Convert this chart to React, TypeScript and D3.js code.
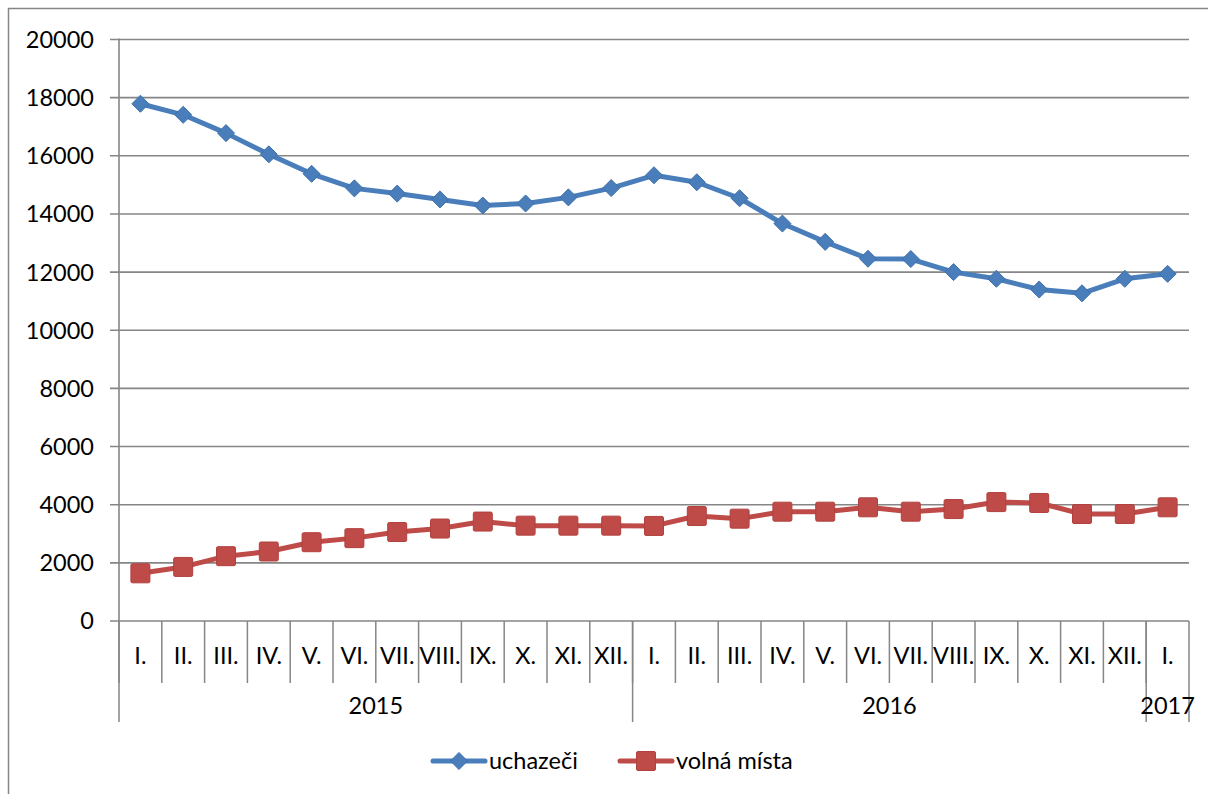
import React from 'react';
import * as d3 from 'd3';

// month labels for each point, and the year groups under them
const months = ['I.', 'II.', 'III.', 'IV.', 'V.', 'VI.', 'VII.', 'VIII.', 'IX.', 'X.', 'XI.', 'XII.',
  'I.', 'II.', 'III.', 'IV.', 'V.', 'VI.', 'VII.', 'VIII.', 'IX.', 'X.', 'XI.', 'XII.', 'I.'];
const years = ['2015', '2016', '2017'];
const yearSpans = [12, 12, 1];

const uchazeci = [17790, 17410, 16780, 16050, 15380, 14880, 14700, 14500, 14290, 14360, 14570, 14890,
  15330, 15090, 14540, 13670, 13040, 12460, 12450, 12000, 11770, 11400, 11270, 11770, 11940];
const volnaMista = [1640, 1860, 2230, 2390, 2710, 2850, 3060, 3180, 3420, 3280, 3280, 3280,
  3270, 3610, 3520, 3760, 3760, 3910, 3760, 3850, 4090, 4060, 3680, 3680, 3910];

const seriesNames = ['uchazeči', 'volná místa'];

const W = 1208;
const H = 794;
const left = 119;
const right = 1189;
const top = 39.5;
const bottom = 621;

const gridColor = '#868686';
const blue = '#4A7EBB';
const red = '#BE4B48';
const font = "Lato, 'Open Sans', sans-serif";
const fs = 23.5;

const App: React.FC = () => {
  const idx = months.map((_, i) => i);
  const x = d3.scaleBand<number>().domain(idx).range([left, right]).padding(0);
  const y = d3.scaleLinear().domain([0, 20000]).range([bottom, top]);
  const cx = (i: number) => (x(i) as number) + x.bandwidth() / 2;

  const line = d3.line<number>().x((_, i) => cx(i)).y(d => y(d));

  // year group boundaries
  let acc = 0;
  const groups = years.map((yr, k) => {
    const start = acc;
    acc += yearSpans[k];
    return { yr, x0: x(start) as number, x1: start + yearSpans[k] >= months.length ? right : (x(acc) as number) };
  });

  const diamond = d3.symbol().type(d3.symbolDiamond2).size(185)();

  return (
    <svg width={W} height={H} style={{ position: 'absolute', left: 0, top: 0, background: '#fff' }}
      fontFamily={font}>
      <rect x={8.5} y={8.5} width={W + 50} height={H + 50} fill="#fff" stroke={gridColor} strokeWidth={1.5} />

      {/* gridlines + y labels */}
      {y.ticks(10).map(t => (
        <g key={t}>
          <line x1={left - 9} x2={right} y1={y(t)} y2={y(t)} stroke={gridColor} strokeWidth={1.6} />
          <text x={94} y={y(t)} dy="0.36em" textAnchor="end" fontSize={fs} fill="#000">{t}</text>
        </g>
      ))}
      <line x1={left} x2={left} y1={top - 1} y2={bottom} stroke={gridColor} strokeWidth={1.6} />

      {/* category ticks */}
      {idx.map(i => (
        <g key={i}>
          <line x1={x(i) as number} x2={x(i) as number} y1={bottom} y2={683} stroke={gridColor} strokeWidth={1.5} />
          <text x={cx(i)} y={656} dy="0.36em" textAnchor="middle" fontSize={fs} fill="#000">{months[i]}</text>
        </g>
      ))}
      <line x1={right} x2={right} y1={bottom} y2={722} stroke={gridColor} strokeWidth={1.5} />
      {groups.map(g => (
        <g key={g.yr}>
          <line x1={g.x0} x2={g.x0} y1={bottom} y2={722} stroke={gridColor} strokeWidth={1.5} />
          <text x={(g.x0 + g.x1) / 2} y={706} dy="0.36em" textAnchor="middle" fontSize={fs} fill="#000">{g.yr}</text>
        </g>
      ))}

      {/* series */}
      <path d={line(uchazeci) || ''} fill="none" stroke={blue} strokeWidth={5} strokeLinejoin="round" />
      {uchazeci.map((v, i) => (
        <path key={i} d={diamond || ''} transform={`translate(${cx(i)},${y(v)})`} fill={blue} stroke="#3F70AA" strokeWidth={1} />
      ))}
      <path d={line(volnaMista) || ''} fill="none" stroke={red} strokeWidth={5} strokeLinejoin="round" />
      {volnaMista.map((v, i) => (
        <rect key={i} x={cx(i) - 9.5} y={y(v) - 9.5} width={19} height={19} rx={1.5} fill={red} stroke="#B0413E" strokeWidth={1} />
      ))}

      {/* legend */}
      <g transform="translate(433,761)">
        <line x1={0} x2={52} y1={0} y2={0} stroke={blue} strokeWidth={5} strokeLinecap="round" />
        <path d={diamond || ''} transform="translate(26,0)" fill={blue} stroke="#3F70AA" strokeWidth={1} />
        <text x={56} y={0} dy="0.36em" fontSize={fs} fill="#000">{seriesNames[0]}</text>
      </g>
      <g transform="translate(620,761)">
        <line x1={0} x2={52} y1={0} y2={0} stroke={red} strokeWidth={5} strokeLinecap="round" />
        <rect x={16.5} y={-9.5} width={19} height={19} rx={1.5} fill={red} stroke="#B0413E" strokeWidth={1} />
        <text x={56} y={0} dy="0.36em" fontSize={fs} fill="#000">{seriesNames[1]}</text>
      </g>
    </svg>
  );
};

export default App;
